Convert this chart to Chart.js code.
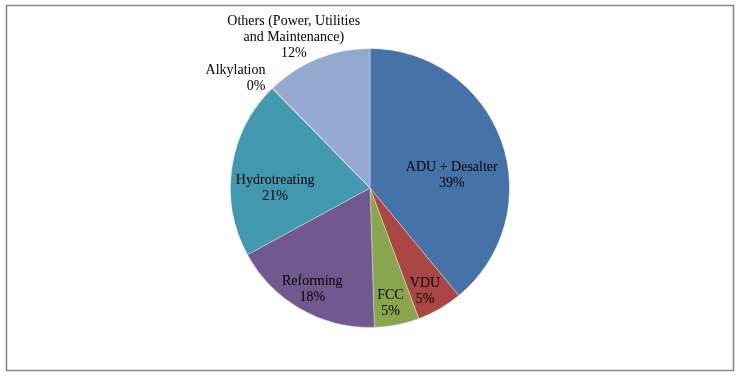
<!DOCTYPE html>
<html>
<head>
<meta charset="utf-8">
<script src="https://cdn.jsdelivr.net/npm/chart.js@4"></script>
<style>
  html, body { margin: 0; padding: 0; background: #fff; }
  #wrap { position: relative; width: 738px; height: 376px; }
</style>
</head>
<body>
<div id="wrap"><canvas id="chart" width="738" height="376"></canvas></div>
<script>
const labels = [
  ["ADU + Desalter"],
  ["VDU"],
  ["FCC"],
  ["Reforming"],
  ["Hydrotreating"],
  ["Alkylation"],
  ["Others (Power, Utilities", "and Maintenance)"],
];
const shares = [39.1, 5.3, 5.2, 17.6, 20.6, 0.1, 12.3];
const colors = ["#4572A7", "#AA4643", "#89A54E", "#71588F", "#4198AF", "#DB843D", "#93A9CF"];
const outside = [false, false, false, false, false, true, true];
// small nudges so label blocks sit where Excel put them
const nudge = [[-18, 23], [2, 12], [0, 11], [-5, 9], [10, 16], [-3, 1], [-9, 4]];

const FONT = "14px 'Liberation Serif', 'Times New Roman', serif";
const LINE = 16;

// gray frame around the whole picture
const framePlugin = {
  id: "frame",
  afterDraw(chart) {
    const ctx = chart.ctx;
    ctx.save();
    ctx.strokeStyle = "#888";
    ctx.lineWidth = 1.5;
    ctx.strokeRect(6.5, 5.5, 727, 365);
    ctx.restore();
  },
};

// Excel-like data labels: name + percent
const labelPlugin = {
  id: "pieLabels",
  afterDatasetsDraw(chart) {
    const ctx = chart.ctx;
    const meta = chart.getDatasetMeta(0);
    const total = shares.reduce((a, b) => a + b, 0);
    ctx.save();
    ctx.font = FONT;
    ctx.fillStyle = "#000";
    meta.data.forEach((arc, i) => {
      const { x, y, startAngle, endAngle, outerRadius } = arc.getProps(
        ["x", "y", "startAngle", "endAngle", "outerRadius"], true);
      const mid = (startAngle + endAngle) / 2;
      const lines = [...labels[i], Math.round((shares[i] / total) * 100) + "%"];
      const h = lines.length * LINE;
      let cx, cy;
      if (!outside[i]) {
        const r = outerRadius * 0.76;
        cx = x + Math.cos(mid) * r;
        cy = y + Math.sin(mid) * r;
        ctx.textAlign = "center";
      } else {
        const r = outerRadius + 10;
        const ax = x + Math.cos(mid) * r;
        const ay = y + Math.sin(mid) * r;
        if (Math.abs(Math.cos(mid)) > 0.6) {
          ctx.textAlign = "right";
          cx = ax + 3;
          cy = ay - 4;
        } else {
          ctx.textAlign = "center";
          cx = ax - 11;
          cy = ay - h / 2 + 8;
        }
      }
      cx += nudge[i][0];
      cy += nudge[i][1];
      ctx.textBaseline = "middle";
      lines.forEach((t, k) => {
        ctx.fillText(t, cx, cy - h / 2 + LINE / 2 + k * LINE);
      });
    });
    ctx.restore();
  },
};

new Chart(document.getElementById("chart").getContext("2d"), {
  type: "pie",
  data: {
    labels: labels.map((l) => l.join(" ")),
    datasets: [{
      data: shares,
      backgroundColor: colors,
      borderColor: "rgba(255,255,255,0.35)",
      borderWidth: 1,
    }],
  },
  options: {
    responsive: false,
    animation: false,
    layout: { padding: { top: 48, bottom: 48, left: 2, right: 0 } },
    plugins: { legend: { display: false }, tooltip: { enabled: false } },
  },
  plugins: [labelPlugin, framePlugin],
});
</script>
</body>
</html>
